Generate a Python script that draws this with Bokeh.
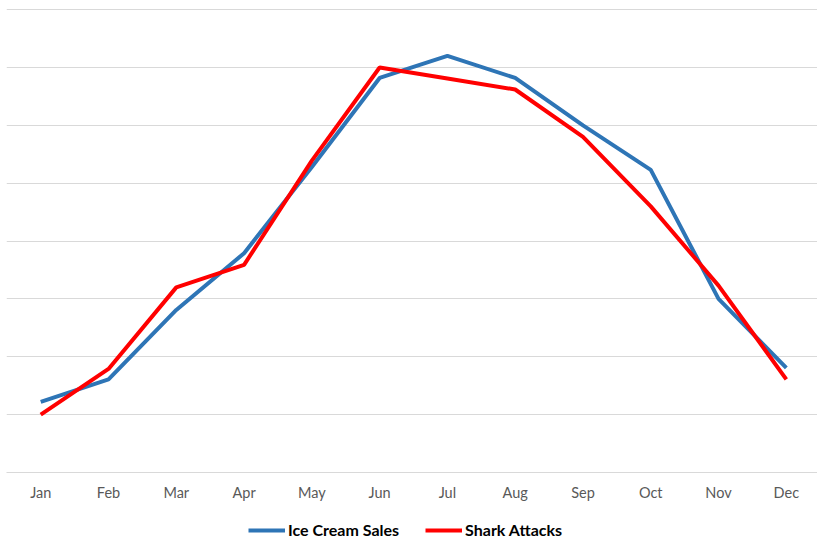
from bokeh.plotting import figure
from bokeh.models import FixedTicker, Legend, LegendItem, Range1d
from bokeh.layouts import column
from bokeh.embed import file_html
from bokeh.resources import INLINE

months = ["Jan", "Feb", "Mar", "Apr", "May", "Jun", "Jul", "Aug", "Sep", "Oct", "Nov", "Dec"]
ice_cream_sales = [1.22, 1.61, 2.81, 3.79, 5.28, 6.82, 7.20, 6.82, 6.0, 5.23, 3.0, 1.81]
shark_attacks = [1.0, 1.79, 3.2, 3.59, 5.39, 7.0, 6.81, 6.62, 5.8, 4.6, 3.23, 1.61]
series_names = ["Ice Cream Sales", "Shark Attacks"]
series_colors = ["#2E75B6", "#FF0000"]
grid_ticks = [0, 1, 2, 3, 4, 5, 6, 7, 8]

x = list(range(len(months)))

p = figure(frame_width=811, frame_height=464, output_backend="svg", toolbar_location=None,
           x_range=Range1d(-0.505, 11.46), y_range=Range1d(0, 8.02),
           min_border_left=6, min_border_right=0, min_border_top=8, min_border_bottom=28)
p.outline_line_color = None
p.background_fill_color = "white"
p.border_fill_color = "white"

p.yaxis.visible = False
p.xgrid.grid_line_color = None
p.ygrid.ticker = FixedTicker(ticks=grid_ticks)
p.ygrid.grid_line_color = "#d9d9d9"
p.ygrid.grid_line_width = 1

p.xaxis.ticker = FixedTicker(ticks=x)
p.xaxis.major_label_overrides = {i: m for i, m in enumerate(months)}
p.xaxis.axis_line_color = "#d9d9d9"
p.xaxis.major_tick_line_color = None
p.xaxis.minor_tick_line_color = None
p.xaxis.major_tick_out = 0
p.xaxis.major_tick_in = 0
p.xaxis.minor_tick_out = 0
p.xaxis.minor_tick_in = 0
p.xaxis.major_label_text_font = "Lato"
p.xaxis.major_label_text_font_size = "14.5px"
p.xaxis.major_label_text_color = "#595959"
p.xaxis.major_label_standoff = 11

series = [ice_cream_sales, shark_attacks]
for vals, color in zip(series, series_colors):
    p.line(x, vals, line_color=color, line_width=4)

# legend strip below the chart (its lines lie outside its visible range)
lg = figure(width=817, height=38, output_backend="svg", toolbar_location=None,
            x_axis_type=None, y_axis_type=None,
            x_range=Range1d(-100, -99), y_range=Range1d(-100, -99),
            min_border_left=0, min_border_right=0, min_border_top=0, min_border_bottom=0)
lg.outline_line_color = None
lg.xgrid.visible = False
lg.ygrid.visible = False
lg.background_fill_color = "white"
lg.border_fill_color = "white"

items = []
for name, vals, color in zip(series_names, series, series_colors):
    r = lg.line(x, vals, line_color=color, line_width=4)
    items.append(LegendItem(label=name, renderers=[r]))

legend = Legend(items=items, orientation="horizontal", location=(242, 2))
legend.label_text_font = "Lato"
legend.label_text_font_style = "bold"
legend.label_text_font_size = "16px"
legend.label_text_color = "#000000"
legend.glyph_width = 37
legend.glyph_height = 16
legend.label_height = 16
legend.label_standoff = 3
legend.spacing = 26
legend.border_line_color = None
legend.background_fill_alpha = 0
legend.padding = 0
legend.margin = 0
lg.add_layout(legend, "center")

layout = column(p, lg, spacing=0)
open("out.html", "w").write(file_html(layout, INLINE))
